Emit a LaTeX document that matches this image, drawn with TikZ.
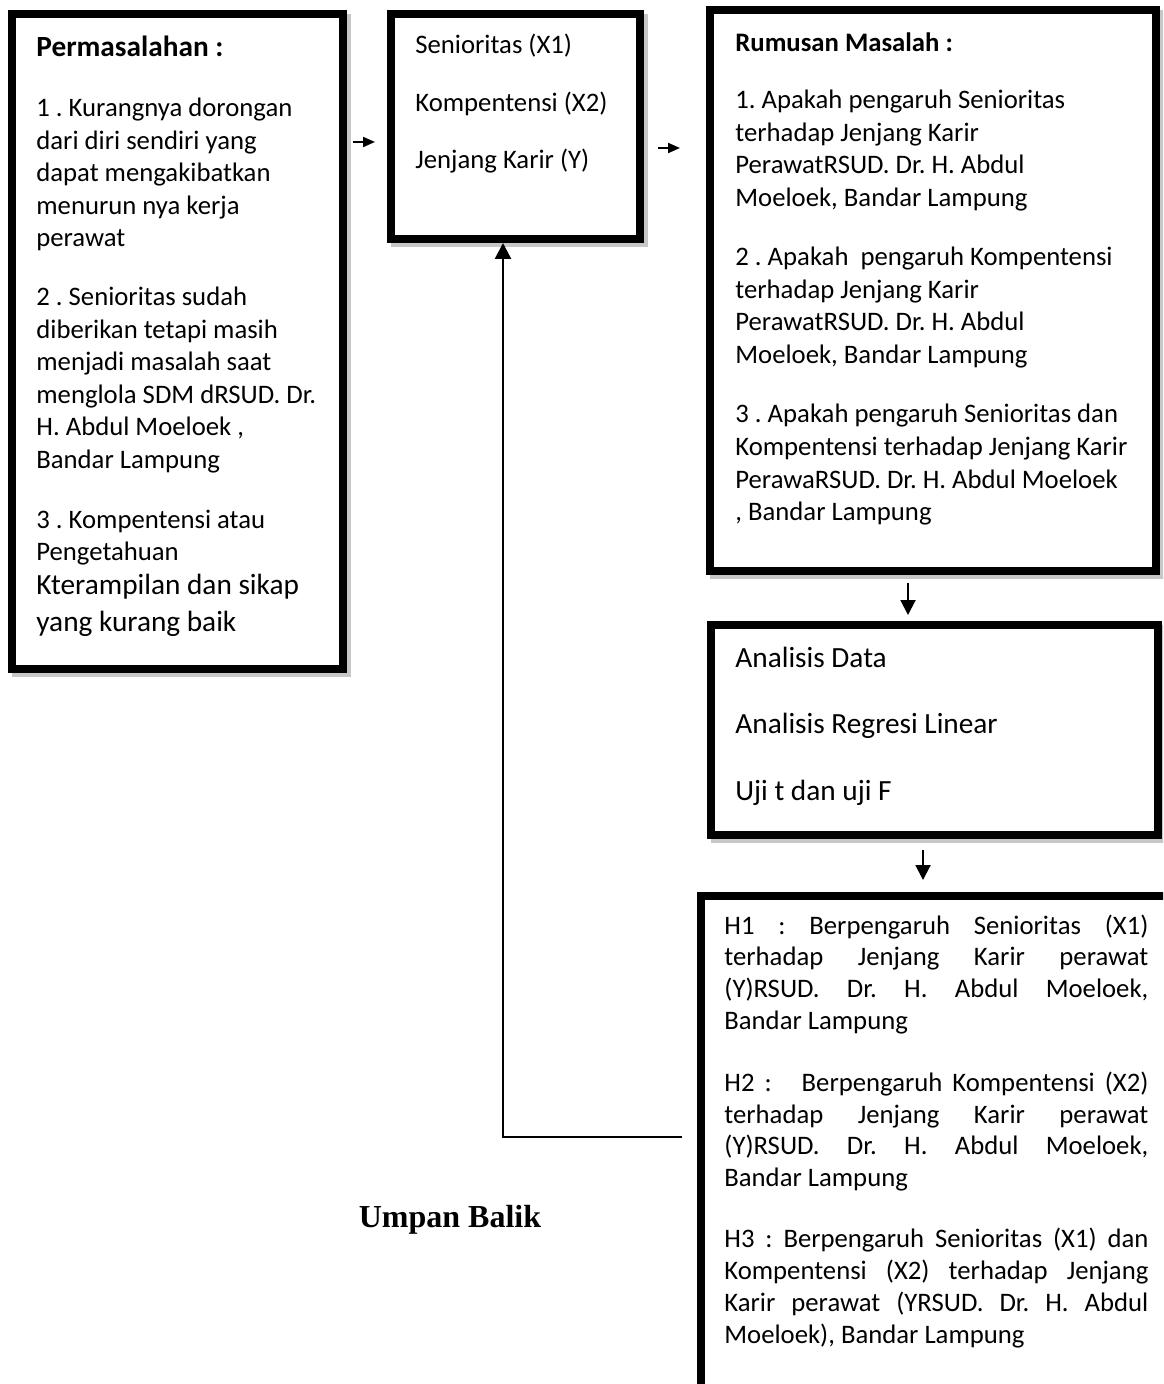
\documentclass[tikz,border=0pt]{standalone}
\usepackage{fontspec}
\setmainfont{Carlito}
\newfontfamily\umpanfont{Liberation Serif}
\usetikzlibrary{arrows.meta,fit,shadows}

\newcommand\bodyfont{\fontsize{13.35}{16}\selectfont}
\newcommand\bigfont{\fontsize{14.65}{18}\selectfont}
\newcommand\jline[1]{\makebox[212pt][s]{#1}}
\frenchspacing

\tikzset{
  frame/.style={draw, line width=4pt, fill=white, inner sep=0pt,
    general shadow={draw=black!22, line width=4pt, shadow xshift=2pt, shadow yshift=-2pt}},
  txt/.style={anchor=base west, inner sep=0pt, font=\bodyfont},
  bigtxt/.style={txt, font=\bigfont},
  arr/.style={line width=1pt, -{Triangle[width=5pt,length=6pt]}},
  downarr/.style={line width=1pt, -{Triangle[width=7.5pt,length=7.5pt]}},
  fb/.style={line width=1.2pt, -{Triangle[width=8pt,length=8pt]}}
}

\begin{document}
\begin{tikzpicture}[x=0.5pt, y=-0.5pt]
	\useasboundingbox (0,0) rectangle (1163,1384);
	\clip (0,0) rectangle (1163,1384);

	% boxes
	\node[frame, fit={(12,14) (343,669)}] (perm) {};
	\node[frame, fit={(391,14) (640,239)}] (vars) {};
	\node[frame, fit={(710,10) (1156,571)}] (rum) {};
	\node[frame, fit={(711,625) (1158,835)}] (ana) {};
	\node[frame, fit={(701,896) (1175,1395)}] (hyp) {};

	% Permasalahan
	\node[bigtxt] (perm0) at (36,57) {\textbf{Permasalahan :}};
	\foreach \y/\t [count=\i] in {
		117/1 . Kurangnya dorongan,
		149.5/dari diri sendiri yang,
		182/dapat mengakibatkan,
		214.5/menurun nya kerja,
		247/perawat,
		306/2 . Senioritas sudah,
		338.5/diberikan tetapi masih,
		371/menjadi masalah saat,
		403.5/menglola SDM dRSUD. Dr.,
		436/{H. Abdul Moeloek ,},
		468.5/Bandar Lampung,
		528/3 . Kompentensi atau,
		560.5/Pengetahuan
	}
		\node[txt] (perm\i) at (36,\y) {\t};
	\node[bigtxt] (perm14) at (36,594) {Kterampilan dan sikap};
	\node[bigtxt] (perm15) at (36,631) {yang kurang baik};

	% variabel
	\foreach \y/\t [count=\i] in {
		54/Senioritas (X1),
		112/Kompentensi (X2),
		169/Jenjang Karir (Y)
	}
		\node[txt] (vars\i) at (415,\y) {\t};

	% rumusan masalah
	\foreach \y/\t [count=\i] in {
		52/\textbf{Rumusan Masalah :},
		109/1. Apakah pengaruh Senioritas,
		141.5/terhadap Jenjang Karir,
		174/PerawatRSUD. Dr. H. Abdul,
		206.5/{Moeloek, Bandar Lampung},
		266/2 . Apakah\ \ pengaruh Kompentensi,
		298.5/terhadap Jenjang Karir,
		331/PerawatRSUD. Dr. H. Abdul,
		363.5/{Moeloek, Bandar Lampung},
		423/3 . Apakah pengaruh Senioritas dan,
		455.5/Kompentensi terhadap Jenjang Karir,
		488/PerawaRSUD. Dr. H. Abdul Moeloek,
		520.5/{, Bandar Lampung}
	}
		\node[txt] (rum\i) at (735,\y) {\t};

	% analisis
	\foreach \y/\t [count=\i] in {
		667/Analisis Data,
		733/Analisis Regresi Linear,
		800/Uji t dan uji F
	}
		\node[bigtxt] (ana\i) at (735,\y) {\t};

	% hipotesis
	\foreach \y/\t [count=\i] in {
		934/{\jline{H1 : Berpengaruh Senioritas (X1)}},
		965.5/{\jline{terhadap Jenjang Karir perawat}},
		997/{\jline{(Y)RSUD. Dr. H. Abdul Moeloek,}},
		1029/Bandar Lampung,
		1091/{\jline{H2 :\ \ \ Berpengaruh Kompentensi (X2)}},
		1123/{\jline{terhadap Jenjang Karir perawat}},
		1154.5/{\jline{(Y)RSUD. Dr. H. Abdul Moeloek,}},
		1186/Bandar Lampung,
		1247/{\jline{H3 : Berpengaruh Senioritas (X1) dan}},
		1279/{\jline{Kompentensi (X2) terhadap Jenjang}},
		1311/{\jline{Karir perawat (YRSUD. Dr. H. Abdul}},
		1343/{Moeloek), Bandar Lampung}
	}
		\node[txt] (hyp\i) at (724,\y) {\t};

	\node[font=\umpanfont\bfseries\fontsize{16}{19}\selectfont, anchor=base, inner sep=0pt]
		(umpan) at (450,1227) {Umpan Balik};

	% arrows
	\coordinate (ar1) at (0,142);
	\coordinate (ar2) at (0,148);
	\coordinate (ar3) at (908,0);
	\coordinate (ar4) at (923,0);
	\coordinate (fbk) at (503,1137);
	\draw[arr, shorten <=3pt, shorten >=6pt] (perm.east |- ar1) -- (vars.west |- ar1);
	\draw[arr, shorten <=7pt, shorten >=13pt] (vars.east |- ar2) -- (rum.west |- ar2);
	\draw[downarr, shorten <=4pt, shorten >=3pt] (rum.south -| ar3) -- (ana.north -| ar3);
	\draw[downarr, shorten <=5.5pt, shorten >=6pt] (ana.south -| ar4) -- (hyp.north -| ar4);
	\draw[fb, shorten <=7.5pt] (hyp.west |- fbk) -| (vars.south -| fbk);
\end{tikzpicture}
\end{document}
